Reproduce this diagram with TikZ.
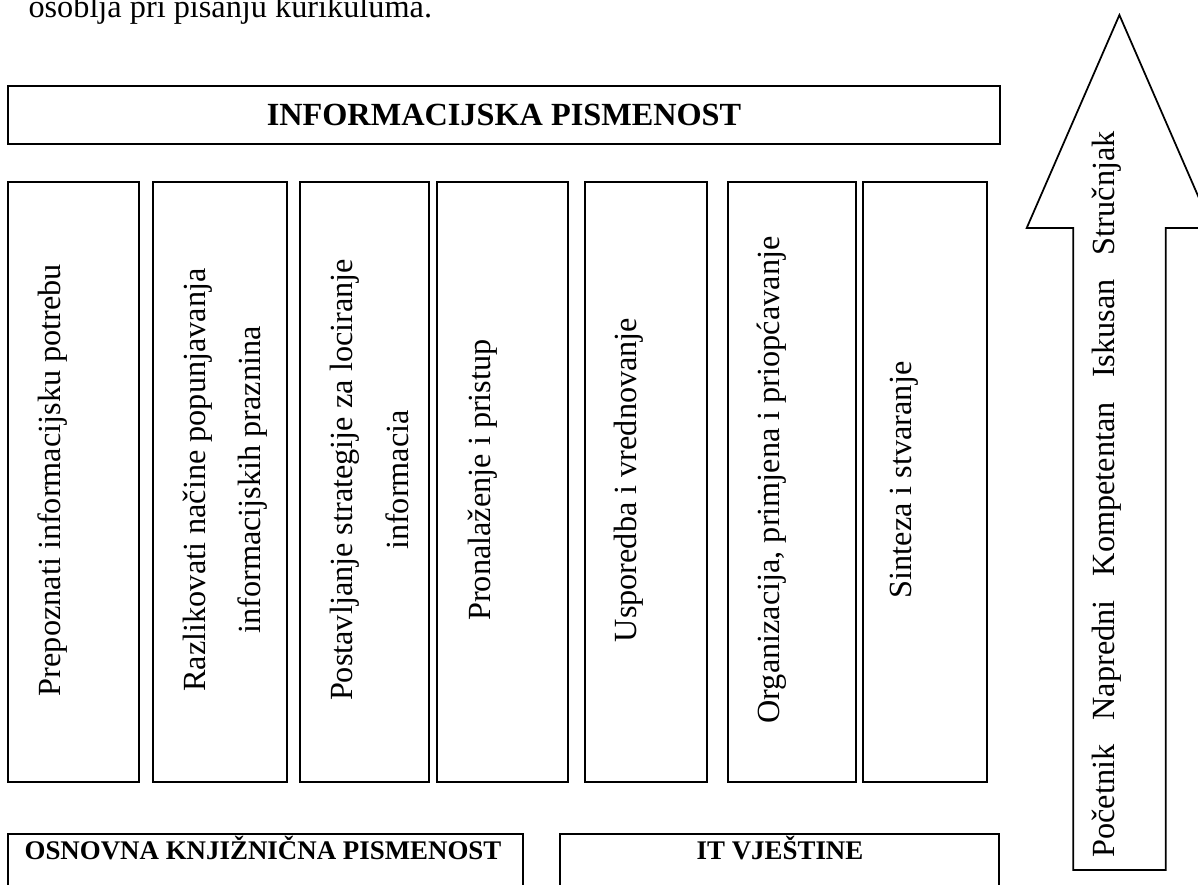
\documentclass[tikz,border=0pt]{standalone}
\usepackage{fontspec}
\setmainfont{Liberation Serif}
\begin{document}
\begin{tikzpicture}[x=0.3717pt,y=-0.3717pt,
  box/.style={draw,line width=0.65pt},
  coltext/.style={rotate=90,anchor=north,inner sep=0pt,align=center,font=\fontsize{12}{20.7}\selectfont},
  head/.style={inner sep=0pt,font=\bfseries\fontsize{12}{14}\selectfont},
  subhead/.style={inner sep=0pt,font=\bfseries\fontsize{10}{12}\selectfont},
]
\useasboundingbox (0,0) rectangle (1198,885);
\clip (0,0) rectangle (1198,885);
\node[anchor=base west,inner sep=0pt,font=\fontsize{12}{14}\selectfont] (intro) at (28,17) {osoblja pri pisanju kurikuluma.};
% top box
\draw[box] (8,86) rectangle (1000,144);
\node[head] (ip) at (504,115) {INFORMACIJSKA PISMENOST};
% columns
\draw[box] (8,182) rectangle (139,782);
\draw[box] (153,182) rectangle (287,782);
\draw[box] (300,182) rectangle (429,782);
\draw[box] (437,182) rectangle (568,782);
\draw[box] (585,182) rectangle (707,782);
\draw[box] (728,182) rectangle (856,782);
\draw[box] (863,182) rectangle (987,782);
\node[coltext] (c1) at (37,480) {Prepoznati informacijsku potrebu};
\node[coltext] (c2) at (182,480) {Razlikovati načine popunjavanja\\informacijskih praznina};
\node[coltext] (c3) at (330,480) {Postavljanje strategije za lociranje\\informacia};
\node[coltext] (c4) at (467,480) {Pronalaženje i pristup};
\node[coltext] (c5) at (614,480) {Usporedba i vrednovanje};
\node[coltext] (c6) at (757,480) {Organizacija, primjena i priopćavanje};
\node[coltext] (c7) at (890,480) {Sinteza i stvaranje};
% bottom boxes
\draw[box] (8,834) rectangle (523,900);
\draw[box] (560,834) rectangle (999,900);
\node[subhead] (okp) at (263,848) {OSNOVNA KNJIŽNIČNA PISMENOST};
\node[subhead] (itv) at (780,848) {IT VJEŠTINE};
% arrow
\draw[box] (1119.4,15) -- (1212,228) -- (1165.7,228) -- (1165.7,870) -- (1073.3,870) -- (1073.3,228) -- (1026.7,228) -- cycle;
\node[coltext] (lvl) at (1091,494.5) {Početnik\hspace{0.75em}Napredni\hspace{0.75em}Kompetentan\hspace{0.75em}Iskusan\hspace{0.75em}Stručnjak};
\end{tikzpicture}
\end{document}
